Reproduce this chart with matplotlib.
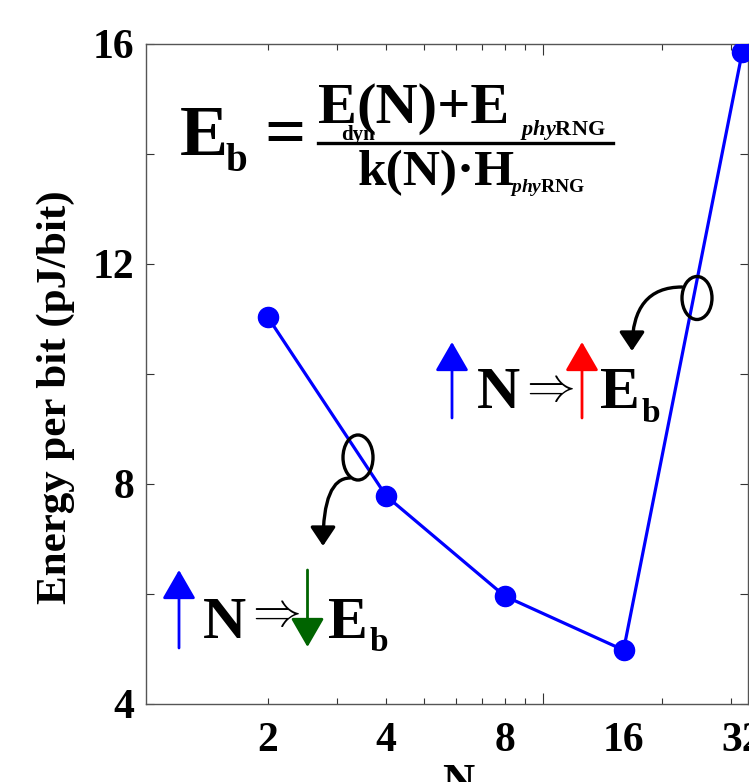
import matplotlib
matplotlib.use("Agg")
import matplotlib.pyplot as plt
from matplotlib.patches import Ellipse, FancyArrowPatch
from matplotlib.ticker import FixedLocator, NullFormatter
import matplotlib.transforms as mtransforms

# data
N = [2, 4, 8, 16, 32]
energy = [11.04, 7.78, 5.96, 4.98, 15.85]
n_labels = ['2', '4', '8', '16', '32']
y_ticks = [4, 8, 12, 16]

plt.rcParams['font.family'] = ['Liberation Serif', 'DejaVu Sans']
plt.rcParams['font.weight'] = 'bold'
plt.rcParams['mathtext.fontset'] = 'custom'
plt.rcParams['mathtext.it'] = 'Liberation Serif:italic:bold'
plt.rcParams['mathtext.rm'] = 'Liberation Serif:bold'

W, H = 749, 782
fig = plt.figure(figsize=(W / 100, H / 100), dpi=100)
ax = fig.add_axes([145.5 / W, 1 - 704 / H, 602.5 / W, 660 / H])

ax.plot(N, energy, '-o', color='#0000ff', lw=2.3, ms=14.5, zorder=3)

ax.set_xscale('log')
ax.set_xlim(0.98, 33.1)
ax.set_ylim(4, 16)
# log ticks as in the original: long one at 10, short ones elsewhere
ax.xaxis.set_major_locator(FixedLocator([10]))
ax.xaxis.set_major_formatter(NullFormatter())
ax.xaxis.set_minor_locator(FixedLocator([2, 3, 4, 5, 6, 7, 8, 9, 20, 30]))
ax.xaxis.set_minor_formatter(NullFormatter())
ax.set_yticks(y_ticks)
ax.set_yticks([6, 10, 14], minor=True)

ax.tick_params(which='both', direction='in', top=True, right=True,
               labelsize=30, color='#333333', width=0.8)
ax.tick_params(axis='x', which='major', length=8)
ax.tick_params(axis='x', which='minor', length=4)
ax.tick_params(axis='y', which='both', length=6, pad=8)
for s in ax.spines.values():
    s.set_color('#555555')
    s.set_linewidth(1.0)

# N labels under the axis at the data positions
trans = mtransforms.blended_transform_factory(ax.transData, ax.transAxes)
for n, lab in zip(N, n_labels):
    ax.text(n, -0.027, lab, transform=trans, ha='center', va='top',
            fontsize=30, fontweight='bold', clip_on=False)

ax.set_ylabel('Energy per bit (pJ/bit)', fontsize=31, fontweight='bold')
ax.yaxis.set_label_coords(-0.117, 0.465)
ax.set_xlabel('N', fontsize=32, fontweight='bold')
ax.xaxis.set_label_coords(0.519, -0.089)

# overlay in pixel coordinates for the annotations
ov = fig.add_axes([0, 0, 1, 1], facecolor='none')
ov.set_xlim(0, W)
ov.set_ylim(H, 0)
ov.axis('off')


def txt(x, y, s, size, **kw):
    kw.setdefault('va', 'baseline')
    kw.setdefault('ha', 'left')
    ov.text(x, y, s, fontsize=size, fontweight='bold', **kw)


def arrow(x0, y0, x1, y1, color, hw=13, hl=24, lw=2.0, style='arc3,rad=0'):
    a = FancyArrowPatch((x0, y0), (x1, y1), connectionstyle=style,
                        arrowstyle='-|>,head_width=%g,head_length=%g' % (hw / 2.6, hl / 1.39),
                        mutation_scale=1, color=color, lw=lw, shrinkA=0, shrinkB=0)
    ov.add_patch(a)


# formula
txt(180, 155, 'E', 52)
txt(225, 171, 'b', 28)
txt(264, 155, '=', 52)
txt(318, 123, 'E', 42)
txt(341, 140, 'dyn', 15)
txt(356, 123, '(N)+E', 42)
txt(520, 135, r'$phy$RNG', 16)
ov.plot([318, 613], [142.7, 142.7], color='black', lw=2.4)
txt(358, 185, 'k(N)·H', 37)
txt(510, 192, r'$phy$RNG', 14)

# upper-right note
ov.add_patch(Ellipse((697, 298), 30, 43, fill=False, lw=2.4, color='black'))
arrow(682, 287, 632, 351, 'black', hw=20, hl=16, lw=2.4,
      style='angle3,angleA=0,angleB=90')
arrow(452, 418, 452, 342, '#0000ff', hw=27, hl=25)
txt(477, 408, 'N', 43)
ov.text(519, 389, r'$\Rightarrow$', fontsize=35, va='center', ha='left')
arrow(582, 418, 582, 342, '#ff0000', hw=27, hl=25)
txt(600, 408, 'E', 43)
txt(642, 422, 'b', 24)

# lower-left note
ov.add_patch(Ellipse((358, 457.5), 30, 45, fill=False, lw=2.4, color='black'))
arrow(350, 478, 323, 546, 'black', hw=20, hl=16, lw=2.4,
      style='angle3,angleA=0,angleB=90')
arrow(179, 648, 179, 570, '#0000ff', hw=27, hl=25)
txt(203, 638, 'N', 43)
ov.text(245, 614, r'$\Rightarrow$', fontsize=35, va='center', ha='left')
arrow(307.5, 570, 307.5, 647, '#006400', hw=27, hl=25)
txt(328, 638, 'E', 43)
txt(370, 651, 'b', 24)

fig.savefig('out.png', dpi=100)
